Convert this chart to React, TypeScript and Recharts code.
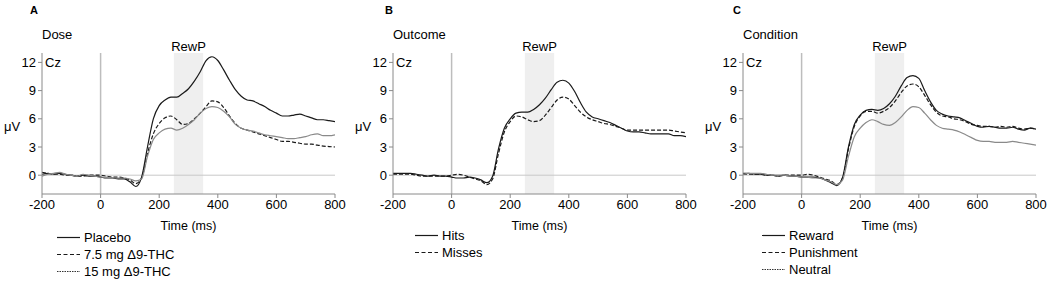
import React from "react";
import {
  ComposedChart,
  Line,
  ReferenceArea,
  ReferenceLine,
  XAxis,
  YAxis,
} from "recharts";

// time points (ms)
const times = [
  -200, -180, -160, -140, -120, -100, -80, -60, -40, -20, 0, 20, 40, 60, 80, 100, 120, 140, 160, 180, 200,
  220, 240, 260, 280, 300, 320, 340, 360, 380, 400, 420, 440, 460, 480, 500, 520, 540, 560, 580, 600,
  620, 640, 660, 680, 700, 720, 740, 760, 780, 800,
];

const xTicks = [-200, 0, 200, 400, 600, 800];
const yTicks = [0, 3, 6, 9, 12];

// A: Dose
const placebo = [
  0.1, 0.2, 0.1, 0.2, 0.1, 0.0, -0.1, 0.0, -0.1, -0.1, -0.2, -0.3, -0.3, -0.4, -0.4, -0.7, -1.2, -0.2, 3.0, 6.0, 7.4,
  8.0, 8.3, 8.3, 8.7, 9.2, 10.0, 11.0, 12.2, 12.6, 12.2, 11.2, 10.1, 9.1, 8.4, 8.0, 7.9, 7.6, 7.3, 6.9, 6.6,
  6.3, 6.3, 6.4, 6.5, 6.3, 6.1, 5.9, 5.9, 5.8, 5.7,
];
const thc75 = [
  0.3, 0.2, 0.1, 0.1, 0.0, 0.0, -0.1, -0.1, 0.0, 0.0, 0.0, -0.1, -0.2, -0.2, -0.3, -0.5, -0.9, -0.3, 2.3, 4.4, 5.5,
  6.1, 6.3, 5.9, 5.4, 5.5, 6.0, 6.6, 7.3, 7.9, 7.8, 7.2, 6.3, 5.5, 5.0, 4.8, 4.6, 4.4, 4.2, 4.0, 3.8,
  3.6, 3.6, 3.5, 3.4, 3.3, 3.3, 3.2, 3.1, 3.05, 3.0,
];
const thc15 = [
  -0.1, 0.1, 0.2, 0.3, 0.1, 0.0, -0.1, 0.1, 0.0, -0.1, -0.2, -0.2, -0.3, -0.3, -0.3, -0.4, -0.6, -0.4, 2.0, 3.8, 4.5,
  4.9, 5.0, 4.8, 5.0, 5.4, 5.9, 6.6, 7.1, 7.3, 7.2, 6.8, 6.2, 5.4, 5.0, 4.8, 4.7, 4.5, 4.3, 4.2, 4.1,
  4.0, 3.9, 3.9, 4.0, 4.1, 4.3, 4.4, 4.2, 4.2, 4.3,
];

// B: Outcome
const hits = [
  0.2, 0.2, 0.2, 0.2, 0.1, 0.0, -0.1, 0.0, -0.1, -0.1, -0.2, -0.3, -0.3, -0.2, -0.3, -0.5, -0.8, -0.1, 2.8, 5.0, 6.0,
  6.6, 6.7, 6.7, 7.0, 7.5, 8.2, 9.1, 9.9, 10.1, 9.8, 8.9, 7.7, 6.7, 6.2, 6.0, 5.8, 5.6, 5.3, 5.0, 4.7,
  4.6, 4.6, 4.5, 4.4, 4.4, 4.4, 4.4, 4.2, 4.2, 4.1,
];
const misses = [
  0.1, 0.1, 0.1, 0.1, 0.0, -0.1, -0.1, -0.1, -0.1, -0.1, 0.0, 0.1, 0.0, -0.2, -0.4, -0.6, -1.0, -0.4, 2.3, 4.6, 5.7,
  6.3, 6.2, 5.9, 5.7, 5.8, 6.4, 7.2, 8.0, 8.3, 8.1, 7.4, 6.7, 6.2, 5.9, 5.7, 5.5, 5.4, 5.2, 5.0, 4.8,
  4.8, 4.8, 4.8, 4.8, 4.8, 4.8, 4.8, 4.7, 4.6, 4.5,
];

// C: Condition
const reward = [
  0.2, 0.2, 0.1, 0.1, 0.0, 0.0, -0.1, 0.0, -0.1, -0.1, -0.2, -0.2, -0.2, -0.3, -0.5, -0.8, -1.1, -0.2, 3.0, 5.4, 6.4,
  6.9, 7.0, 6.9, 7.1, 7.6, 8.4, 9.5, 10.4, 10.6, 10.3, 9.0, 7.8, 6.9, 6.5, 6.3, 6.2, 6.1, 5.8, 5.5, 5.2,
  5.1, 5.2, 5.1, 5.0, 5.0, 5.1, 4.9, 4.8, 5.0, 4.9,
];
const punishment = [
  0.1, 0.1, 0.1, 0.1, 0.0, 0.0, -0.1, 0.0, 0.0, 0.0, 0.0, 0.1, 0.0, -0.2, -0.4, -0.6, -1.0, -0.3, 2.8, 5.2, 6.3,
  6.8, 6.8, 6.6, 6.8, 7.2, 7.9, 8.8, 9.5, 9.7, 9.4, 8.5, 7.5, 6.7, 6.3, 6.2, 6.0, 5.9, 5.7, 5.4, 5.3,
  5.2, 5.2, 5.1, 5.2, 5.1, 5.2, 5.0, 4.9, 5.0, 4.9,
];
const neutral = [
  0.1, 0.2, 0.2, 0.2, 0.1, 0.0, 0.0, 0.0, -0.1, -0.1, -0.2, -0.2, -0.3, -0.3, -0.5, -0.7, -1.0, -0.5, 2.0, 4.1, 5.0,
  5.6, 5.9, 5.7, 5.4, 5.3, 5.6, 6.2, 6.9, 7.3, 7.2, 6.6, 5.9, 5.3, 5.0, 4.9, 4.8, 4.6, 4.3, 4.0, 3.7,
  3.6, 3.6, 3.5, 3.5, 3.5, 3.6, 3.5, 3.4, 3.3, 3.2,
];

const FONT = '"Liberation Sans", Arial, sans-serif';
const INK = "#1a1a1a";
const GREY = "#8a8a8a";

type Series = {
  key: string;
  name: string;
  values: number[];
  stroke: string;
  dash?: string;
  legendDash?: string;
  legendStroke?: string;
};

type PanelProps = {
  letter: string;
  title: string;
  left: number;
  letterX: number;
  legendX: number;
  legendY: number;
  series: Series[];
};

function Panel({ letter, title, left, letterX, legendX, legendY, series }: PanelProps) {
  const rows = times.map((t, i) => {
    const row: Record<string, number> = { t };
    series.forEach((s) => (row[s.key] = s.values[i]));
    return row;
  });

  const txt = (extra: React.CSSProperties): React.CSSProperties => ({
    position: "absolute",
    fontFamily: FONT,
    fontSize: 13,
    lineHeight: "15px",
    color: "#000",
    whiteSpace: "nowrap",
    ...extra,
  });

  return (
    <div style={{ position: "absolute", left, top: 0, width: 350, height: 281 }}>
      <ComposedChart
        width={350}
        height={281}
        data={rows}
        margin={{ top: 53, right: 15, bottom: 51, left: 0 }}
        style={{ fontFamily: FONT }}
      >
        <ReferenceArea
          x1={250}
          x2={350}
          fill="#efefef"
          fillOpacity={1}
          stroke="none"
          label={{ value: "RewP", position: "top", offset: 2, fill: "#000", fontSize: 13 }}
        />
        <ReferenceLine x={0} stroke="#bdbdbd" strokeWidth={1.5} />
        <ReferenceLine y={0} stroke="#c8c8c8" strokeWidth={1} />
        <XAxis
          dataKey="t"
          type="number"
          domain={[-200, 800]}
          ticks={xTicks}
          allowDataOverflow
          height={36}
          tickSize={4}
          tickMargin={2}
          tick={{ fill: "#000", fontSize: 13 }}
          axisLine={{ stroke: GREY }}
          tickLine={{ stroke: GREY }}
          label={{ value: "Time (ms)", position: "insideBottom", offset: 0, fill: "#000", fontSize: 12.5 }}
        />
        <YAxis
          type="number"
          domain={[-2, 13]}
          ticks={yTicks}
          allowDataOverflow
          width={42}
          tickSize={4}
          tickMargin={2}
          tick={{ fill: "#000", fontSize: 13 }}
          axisLine={{ stroke: GREY }}
          tickLine={{ stroke: GREY }}
        />
        {series.map((s) => (
          <Line
            key={s.key}
            dataKey={s.key}
            name={s.name}
            type="monotone"
            stroke={s.stroke}
            strokeWidth={1.2}
            strokeDasharray={s.dash}
            dot={false}
            activeDot={false}
            isAnimationActive={false}
          />
        ))}
      </ComposedChart>

      <div style={txt({ left: letterX, top: 3, fontSize: 11, fontWeight: "bold" })}>{letter}</div>
      <div style={txt({ left: 42, top: 27 })}>{title}</div>
      <div style={txt({ left: 45, top: 55 })}>Cz</div>
      <div style={txt({ left: 4, top: 119 })}>μV</div>

      {series.map((s, i) => (
        <div key={s.key} style={txt({ left: legendX, top: legendY + i * 17 - 7, display: "flex", alignItems: "center" })}>
          <svg width={24} height={15} style={{ marginRight: 3 }}>
            <line
              x1={0}
              x2={23}
              y1={7.5}
              y2={7.5}
              stroke={s.legendStroke ?? INK}
              strokeWidth={1.2}
              strokeDasharray={s.legendDash}
            />
          </svg>
          {s.name}
        </div>
      ))}
    </div>
  );
}

export default function App() {
  return (
    <div style={{ position: "absolute", left: 0, top: 0, width: 1050, height: 281, background: "#fff", overflow: "hidden" }}>
      <Panel
        letter="A"
        title="Dose"
        left={0}
        letterX={30}
        legendX={57}
        legendY={237}
        series={[
          { key: "placebo", name: "Placebo", values: placebo, stroke: INK },
          { key: "thc75", name: "7.5 mg Δ9-THC", values: thc75, stroke: INK, dash: "4 2", legendDash: "4 2.5" },
          { key: "thc15", name: "15 mg Δ9-THC", values: thc15, stroke: GREY, legendDash: "1.5 1", legendStroke: "#333" },
        ]}
      />
      <Panel
        letter="B"
        title="Outcome"
        left={351}
        letterX={34}
        legendX={64}
        legendY={235}
        series={[
          { key: "hits", name: "Hits", values: hits, stroke: INK },
          { key: "misses", name: "Misses", values: misses, stroke: INK, dash: "4 2", legendDash: "4 2.5" },
        ]}
      />
      <Panel
        letter="C"
        title="Condition"
        left={701}
        letterX={32}
        legendX={61}
        legendY={235}
        series={[
          { key: "reward", name: "Reward", values: reward, stroke: INK },
          { key: "punishment", name: "Punishment", values: punishment, stroke: INK, dash: "4 2", legendDash: "4 2.5" },
          { key: "neutral", name: "Neutral", values: neutral, stroke: GREY, legendDash: "1.5 1", legendStroke: "#333" },
        ]}
      />
    </div>
  );
}
